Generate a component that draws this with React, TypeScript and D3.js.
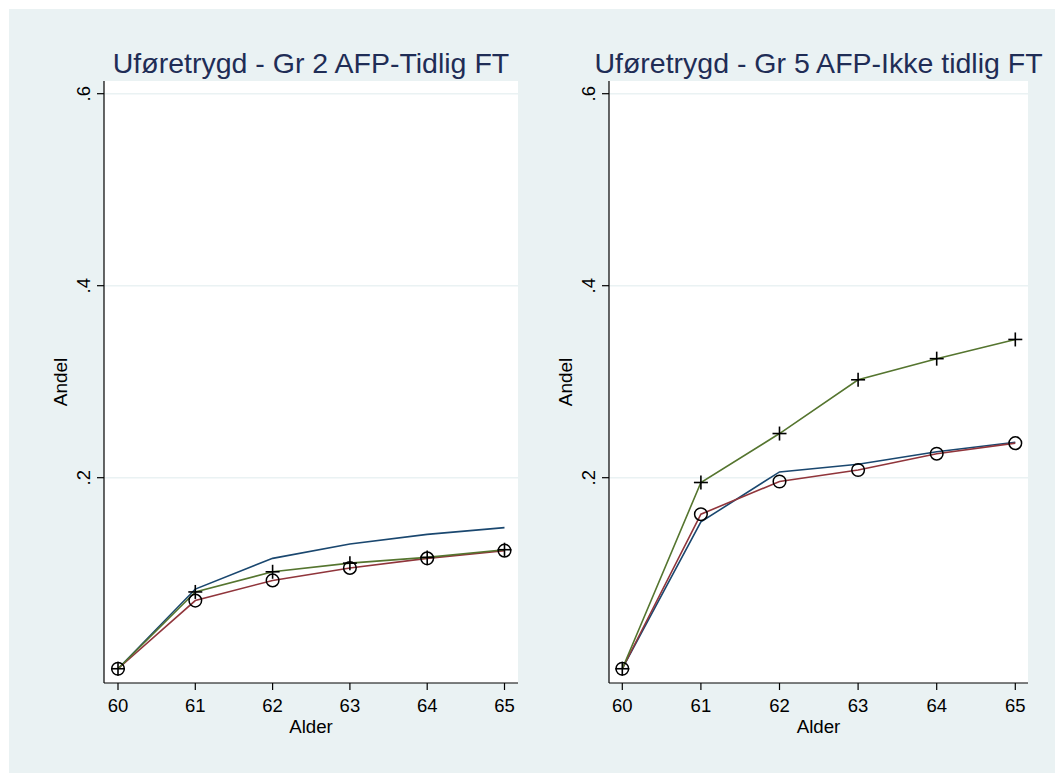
import React from "react";
import * as d3 from "d3";

const ages = [60, 61, 62, 63, 64, 65];
const yTicks = [0.2, 0.4, 0.6];
const yTickLabels = [".2", ".4", ".6"];

const titles = ["Uføretrygd - Gr 2 AFP-Tidlig FT", "Uføretrygd - Gr 5 AFP-Ikke tidlig FT"];

// Panel 1 (Gr 2)
const p1Blue = [0.001, 0.084, 0.116, 0.131, 0.141, 0.148];
const p1Green = [0.001, 0.081, 0.102, 0.111, 0.117, 0.125];
const p1Red = [0.001, 0.072, 0.093, 0.106, 0.116, 0.124];

// Panel 2 (Gr 5)
const p2Blue = [0.001, 0.154, 0.206, 0.214, 0.227, 0.237];
const p2Green = [0.001, 0.195, 0.246, 0.302, 0.324, 0.344];
const p2Red = [0.001, 0.162, 0.196, 0.208, 0.225, 0.236];

const BLUE = "#1a476f";
const RED = "#90353b";
const GREEN = "#55752f";
const BG = "#eaf2f3";

const panels = [
  { title: titles[0], blue: p1Blue, green: p1Green, red: p1Red, left: 104, right: 518, x0: 118, x1: 504.5 },
  { title: titles[1], blue: p2Blue, green: p2Green, red: p2Red, left: 609, right: 1028, x0: 622.3, x1: 1015.3 },
];

const TOP = 81;
const BOTTOM = 683;

function Panel({ p }: { p: typeof panels[number] }) {
  const x = d3.scaleLinear().domain([60, 65]).range([p.x0, p.x1]);
  const y = d3.scaleLinear().domain([0, 0.6]).range([669.7, 93.7]);
  const line = d3
    .line<number>()
    .x((_, i) => x(ages[i]))
    .y((v) => y(v));
  const cx = (p.left + p.right) / 2;
  const font = "'Liberation Sans', Arial, sans-serif";
  return (
    <g>
      <rect x={p.left} y={TOP} width={p.right - p.left} height={BOTTOM - TOP} fill="#ffffff" />
      {yTicks.map((t) => (
        <line key={t} x1={p.left} x2={p.right} y1={y(t)} y2={y(t)} stroke={BG} strokeWidth={1.5} />
      ))}
      <path d={line(p.blue) || ""} fill="none" stroke={BLUE} strokeWidth={1.6} />
      <path d={line(p.red) || ""} fill="none" stroke={RED} strokeWidth={1.6} />
      <path d={line(p.green) || ""} fill="none" stroke={GREEN} strokeWidth={1.6} />
      {p.red.map((v, i) => (
        <circle key={"c" + i} cx={x(ages[i])} cy={y(v)} r={6.3} fill="none" stroke="#000" strokeWidth={1.5} />
      ))}
      {p.green.map((v, i) => (
        <g key={"p" + i} stroke="#000" strokeWidth={1.6}>
          <line x1={x(ages[i]) - 7} x2={x(ages[i]) + 7} y1={y(v)} y2={y(v)} />
          <line x1={x(ages[i])} x2={x(ages[i])} y1={y(v) - 7} y2={y(v) + 7} />
        </g>
      ))}
      {/* axes */}
      <line x1={p.left} x2={p.left} y1={TOP} y2={BOTTOM} stroke="#000" strokeWidth={1.2} />
      <line x1={p.left} x2={p.right} y1={BOTTOM} y2={BOTTOM} stroke="#000" strokeWidth={1.2} />
      {yTicks.map((t, i) => (
        <g key={"yt" + t}>
          <line x1={p.left - 7} x2={p.left} y1={y(t)} y2={y(t)} stroke="#000" strokeWidth={1.2} />
          <text
            transform={`translate(${p.left - 14},${y(t)}) rotate(-90)`}
            textAnchor="middle"
            fontFamily={font}
            fontSize={18.5}
            fill="#000"
          >
            {yTickLabels[i]}
          </text>
        </g>
      ))}
      {ages.map((a) => (
        <g key={"xt" + a}>
          <line x1={x(a)} x2={x(a)} y1={BOTTOM} y2={BOTTOM + 7} stroke="#000" strokeWidth={1.2} />
          <text x={x(a)} y={712.3} textAnchor="middle" fontFamily={font} fontSize={18.5} fill="#000">
            {a}
          </text>
        </g>
      ))}
      <text x={cx} y={732.7} textAnchor="middle" fontFamily={font} fontSize={18.7} fill="#000">
        Alder
      </text>
      <text
        transform={`translate(${p.left - 37.5},${(TOP + BOTTOM) / 2}) rotate(-90)`}
        textAnchor="middle"
        fontFamily={font}
        fontSize={19}
        fill="#000"
      >
        Andel
      </text>
      <text
        x={cx}
        y={72.5}
        textAnchor="middle"
        fontFamily={font}
        fontSize={28.5}
        fill="#1f2d56"
      >
        {p.title}
      </text>
    </g>
  );
}

export default function App() {
  return (
    <svg
      width={1055}
      height={773}
      style={{ position: "absolute", left: 0, top: 0 }}
      xmlns="http://www.w3.org/2000/svg"
    >
      <rect x={0} y={0} width={1055} height={773} fill="#ffffff" />
      <rect x={9} y={9} width={1046} height={764} fill={BG} />
      {panels.map((p, i) => (
        <Panel key={i} p={p} />
      ))}
    </svg>
  );
}
